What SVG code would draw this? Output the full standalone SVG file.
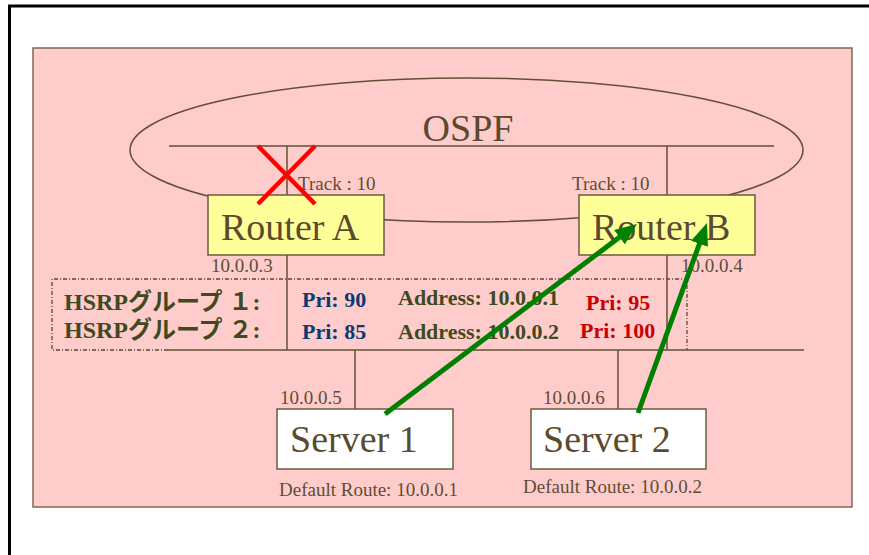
<svg xmlns="http://www.w3.org/2000/svg" width="869" height="555" viewBox="0 0 869 555">
<defs>
<style>
.ln{stroke:#634f35;stroke-width:1.5;fill:none}
.box{stroke:#6b5a40;stroke-width:1.5}
.big{font-family:"Liberation Serif","Times New Roman",serif;font-size:38px;fill:#5a4a2e}
.sm{font-family:"Liberation Serif","Times New Roman",serif;font-size:19px;fill:#5f4d35}
.b{font-family:"Liberation Serif","Noto Sans CJK JP",serif;font-weight:bold;font-size:22px}
.olive{fill:#3f4a20}
.blue{fill:#0b3a72}
.red{fill:#c80000}
.grn{stroke:#008000;stroke-width:5;fill:none;marker-end:url(#ah)}
</style>
<marker id="ah" markerUnits="userSpaceOnUse" markerWidth="22" markerHeight="18" refX="10" refY="9" orient="auto">
<path d="M0,0 L22,9 L0,18 z" fill="#008000"/>
</marker>
</defs>
<rect x="0" y="0" width="869" height="555" fill="#ffffff"/>
<rect x="9.5" y="6" width="900" height="600" fill="none" stroke="#000" stroke-width="3"/>
<rect x="33" y="48" width="819" height="459" fill="#ffcccc" stroke="#7a6a55" stroke-width="1.5"/>
<g id="ospf">
<ellipse cx="466.5" cy="150" rx="336.5" ry="72" class="ln"/>
<text x="468" y="141" class="big" text-anchor="middle">OSPF</text>
</g>
<g id="connectors">
<line x1="169" y1="146" x2="774" y2="146" class="ln"/>
<line x1="287" y1="146" x2="287" y2="196" class="ln"/>
<line x1="667" y1="146" x2="667" y2="196" class="ln"/>
<line x1="287" y1="255" x2="287" y2="350" class="ln"/>
<line x1="667" y1="255" x2="667" y2="350" class="ln"/>
<line x1="355" y1="350" x2="355" y2="409" class="ln"/>
<line x1="618" y1="350" x2="618" y2="409" class="ln"/>
</g>
<g id="hsrp-table">
<path d="M168,350 L52,350 L52,279 L687,279 L687,350" fill="none" stroke="#5a4a35" stroke-width="1.3" stroke-dasharray="4 2 1 2"/>
<text x="64" y="310" class="b olive" style="font-size:24px">HSRPグループ １:</text>
<text x="64" y="338" class="b olive" style="font-size:24px">HSRPグループ ２:</text>
<text x="302" y="307" class="b blue">Pri: 90</text>
<text x="302" y="339" class="b blue">Pri: 85</text>
<text x="398" y="305" class="b olive">Address: 10.0.0.1</text>
<text x="398" y="339" class="b olive">Address: 10.0.0.2</text>
<text x="586" y="310" class="b red">Pri: 95</text>
<text x="580" y="338" class="b red">Pri: 100</text>
</g>
<g id="lan">
<line x1="168" y1="350" x2="804" y2="350" class="ln"/>
</g>
<g id="routerA">
<rect x="208" y="195" width="176" height="60" fill="#ffff99" class="box"/>
<text x="221" y="240" class="big">Router A</text>
<text x="298" y="190" class="sm">Track : 10</text>
<text x="211" y="272" class="sm">10.0.0.3</text>
</g>
<g id="routerB">
<rect x="579" y="195" width="176" height="60" fill="#ffff99" class="box"/>
<text x="592" y="240" class="big">Router B</text>
<text x="572" y="190" class="sm">Track : 10</text>
<text x="681" y="272" class="sm">10.0.0.4</text>
</g>
<g id="server1">
<rect x="277" y="409" width="176" height="60" fill="#ffffff" class="box"/>
<text x="290" y="452" class="big">Server 1</text>
<text x="280" y="404" class="sm">10.0.0.5</text>
<text x="279" y="496" class="sm">Default Route: 10.0.0.1</text>
</g>
<g id="server2">
<rect x="531" y="409" width="175" height="60" fill="#ffffff" class="box"/>
<text x="543" y="452" class="big">Server 2</text>
<text x="543" y="404" class="sm">10.0.0.6</text>
<text x="523" y="493" class="sm">Default Route: 10.0.0.2</text>
</g>
<g id="failure">
<line x1="258" y1="146" x2="315" y2="204" stroke="#ff0000" stroke-width="4.5"/>
<line x1="315" y1="146" x2="258" y2="204" stroke="#ff0000" stroke-width="4.5"/>
</g>
<g id="flows">
<line x1="385" y1="414" x2="627.4" y2="231.2" class="grn"/>
<line x1="638" y1="413" x2="702.9" y2="234.3" class="grn"/>
</g>
</svg>
